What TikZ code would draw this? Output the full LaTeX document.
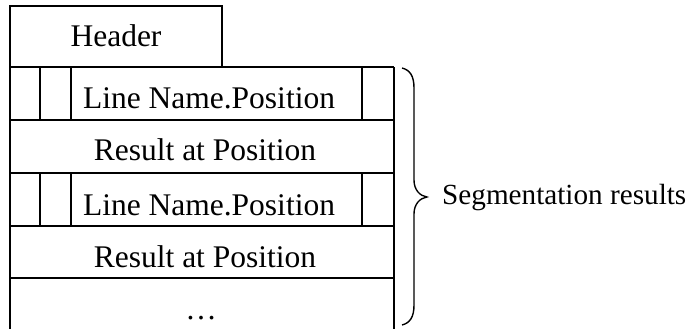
\documentclass[tikz,border=0pt]{standalone}
\usepackage{fontspec}
\setmainfont{Liberation Serif}
\begin{document}
\begin{tikzpicture}[x=1pt,y=-1pt,
  cellline/.style={line width=1.5pt,black},
  lbl/.style={anchor=base,inner sep=0pt,font=\fontsize{31.5}{36}\selectfont}]
\useasboundingbox (0,0) rectangle (690,329);
% header box
\draw[cellline] (10,67) -- (10,6) -- (222,6) -- (222,67);
% main box sides
\draw[cellline] (10,67) -- (10,329);
\draw[cellline] (394,67) -- (394,329);
% row separators
\foreach \y in {67,120,173,226,278} \draw[cellline] (10,\y) -- (394,\y);
% small cells in line-name rows
\foreach \a/\b in {67/120,173/226}{
  \draw[cellline] (40,\a) -- (40,\b);
  \draw[cellline] (71,\a) -- (71,\b);
  \draw[cellline] (362,\a) -- (362,\b);
}
% texts
\node[lbl] (hdr) at (116,47) {Header};
\node[lbl] (ln1) at (209,108) {Line Name.Position};
\node[lbl] (r1) at (205,160) {Result at Position};
\node[lbl] (ln2) at (209,215) {Line Name.Position};
\node[lbl] (r2) at (205,267) {Result at Position};
\node[lbl] (dots) at (201,319) {\ldots};
% brace
\coordinate (btop) at (402,68);
\coordinate (bbot) at (402,325);
\coordinate (btip) at (427,197);
\draw[line width=1.4pt] (btop) .. controls (410,70) and (414,76) .. (414,88)
  -- (414,180) .. controls (414,190) and (420,196) .. (btip)
  .. controls (420,198) and (414,204) .. (414,214)
  -- (414,305) .. controls (414,317) and (410,323) .. (bbot);
\node[lbl,anchor=base west,font=\fontsize{29.2}{34}\selectfont] (seg) at (442,204) {Segmentation results};
\end{tikzpicture}
\end{document}
